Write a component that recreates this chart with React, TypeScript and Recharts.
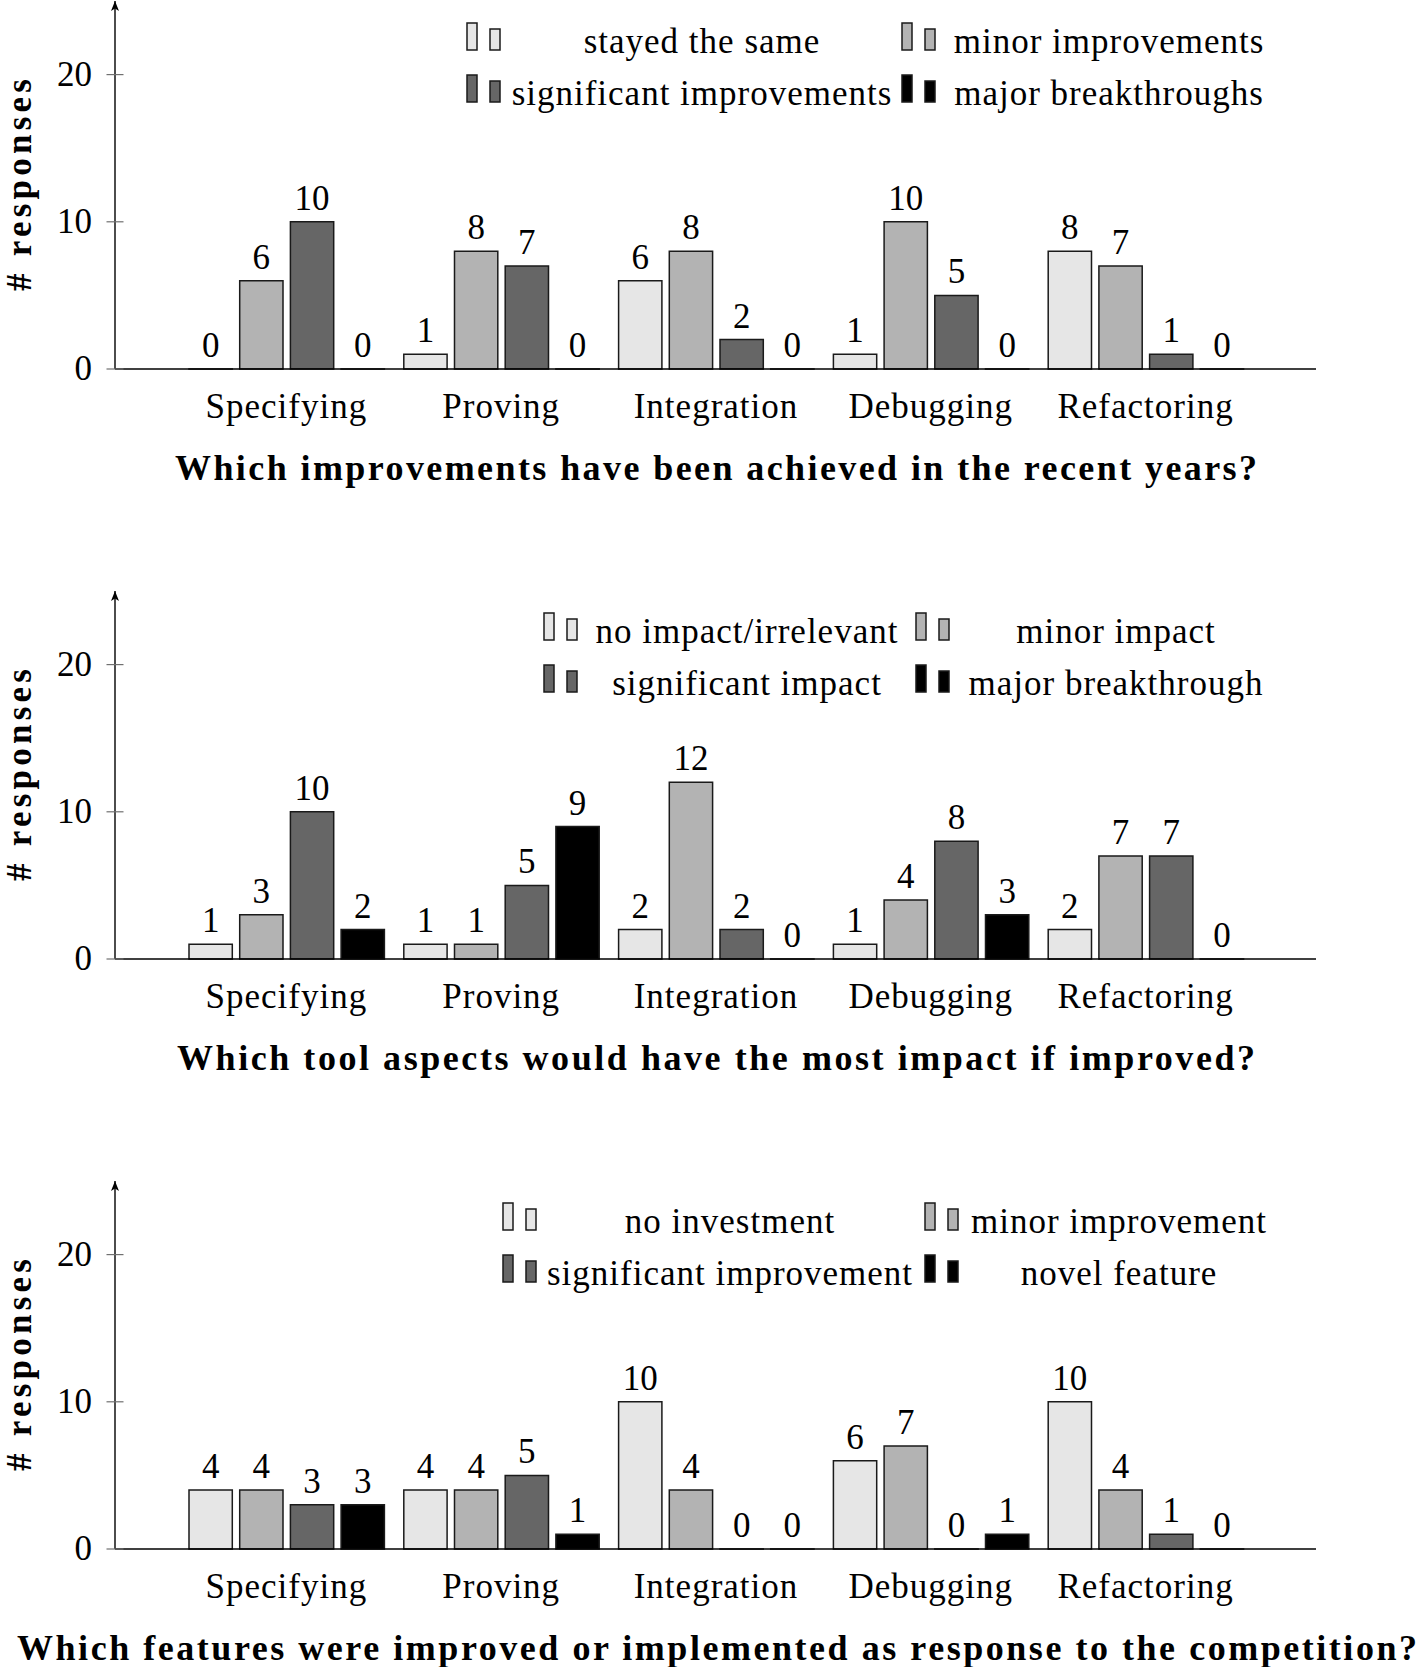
import React from 'react'
import { BarChart, Bar, XAxis, YAxis, Legend, LabelList, Label } from 'recharts'

// ---- data ----
const categories = ['Specifying', 'Proving', 'Integration', 'Debugging', 'Refactoring']
const yTicks = [0, 10, 20]
const yMax = 25
const yAxisTitle = '# responses'

// panel 1
const achievedTitle = 'Which improvements have been achieved in the recent years?'
const achievedNames = ['stayed the same', 'minor improvements', 'significant improvements', 'major breakthroughs']
const achievedSame = [0, 1, 6, 1, 8]
const achievedMinor = [6, 8, 8, 10, 7]
const achievedSignificant = [10, 7, 2, 5, 1]
const achievedMajor = [0, 0, 0, 0, 0]

// panel 2
const impactTitle = 'Which tool aspects would have the most impact if improved?'
const impactNames = ['no impact/irrelevant', 'minor impact', 'significant impact', 'major breakthrough']
const impactNone = [1, 1, 2, 1, 2]
const impactMinor = [3, 1, 12, 4, 7]
const impactSignificant = [10, 5, 2, 8, 7]
const impactMajor = [2, 9, 0, 3, 0]

// panel 3
const featuresTitle = 'Which features were improved or implemented as response to the competition?'
const featuresNames = ['no investment', 'minor improvement', 'significant improvement', 'novel feature']
const featuresNone = [4, 4, 10, 6, 10]
const featuresMinor = [4, 4, 4, 7, 4]
const featuresSignificant = [3, 5, 0, 0, 1]
const featuresNovel = [3, 1, 0, 1, 0]

// ---- styling / layout ----
const FONT = 'Liberation Serif, Tinos, DejaVu Serif, serif'
const W = 1421
const H = 590
const AXIS_X = 115
const AXIS_Y = 369
const FILLS = ['#e6e6e6', '#b3b3b3', '#666666', '#000000']
const STROKE = '#1a1a1a'
const KEYS = ['s0', 's1', 's2', 's3']
const LEGEND_BASE = [50, 102] // bottom of the legend markers per row
const LEGEND_TEXT_SHIFT = 3

const buildRows = (series: number[][]) =>
  categories.map((category, i) => {
    const row: Record<string, string | number> = { category }
    series.forEach((s, k) => (row[KEYS[k]] = s[i]))
    return row
  })

const panels = [
  {
    title: achievedTitle, titleX: 716, titleWidth: 1082, names: achievedNames,
    rows: buildRows([achievedSame, achievedMinor, achievedSignificant, achievedMajor]),
    markerX: [467, 902], textX: [702, 1109],
  },
  {
    title: impactTitle, titleX: 716, titleWidth: 1078, names: impactNames,
    rows: buildRows([impactNone, impactMinor, impactSignificant, impactMajor]),
    markerX: [544, 916], textX: [747, 1116],
  },
  {
    title: featuresTitle, titleX: 717, titleWidth: 1400, names: featuresNames,
    rows: buildRows([featuresNone, featuresMinor, featuresSignificant, featuresNovel]),
    markerX: [503, 925], textX: [730, 1119],
  },
]

const textStyle = { fontFamily: FONT }

function YTick(props: any) {
  const { y, payload } = props
  if (payload.value === yMax) {
    return (
      <path
        d={`M ${AXIS_X} ${y} L ${AXIS_X + 4} ${y + 10} L ${AXIS_X} ${y + 7.5} L ${AXIS_X - 4} ${y + 10} Z`}
        fill="#000"
      />
    )
  }
  return (
    <g>
      <line x1={AXIS_X - 8.5} x2={AXIS_X + 8.5} y1={y} y2={y} stroke="#707070" strokeWidth={1.2} />
      <text x={AXIS_X - 23} y={y + 11} textAnchor="end" style={textStyle} fontSize={35} fill="#000">
        {payload.value}
      </text>
    </g>
  )
}

function XTick(props: any) {
  const { x, y, payload } = props
  return (
    <text x={x} y={y + 49} textAnchor="middle" style={textStyle} fontSize={35} letterSpacing={1} fill="#000">
      {payload.value}
    </text>
  )
}

function ValueLabel(props: any) {
  const { x, y, width, value } = props
  return (
    <text x={x + width / 2} y={y - 12} textAnchor="middle" style={textStyle} fontSize={35} fill="#000">
      {value}
    </text>
  )
}

function Panel({ cfg }: { cfg: (typeof panels)[number] }) {
  const legendContent = (props: any) => {
    const payload = props.payload || []
    return (
      <svg width={W} height={120} style={{ display: 'block' }}>
        {payload.map((p: any) => {
          const idx = KEYS.indexOf(p.dataKey)
          const col = idx % 2
          const base = LEGEND_BASE[Math.floor(idx / 2)]
          const mx = cfg.markerX[col]
          return (
            <g key={p.dataKey}>
              <rect x={mx} y={base - 27} width={10} height={27} fill={FILLS[idx]} stroke={STROKE} strokeWidth={1.5} />
              <rect x={mx + 23} y={base - 21} width={10} height={21} fill={FILLS[idx]} stroke={STROKE} strokeWidth={1.5} />
              <text
                x={cfg.textX[col]}
                y={base + LEGEND_TEXT_SHIFT}
                textAnchor="middle"
                style={textStyle}
                fontSize={35}
                letterSpacing={1}
                fill="#000"
              >
                {cfg.names[idx]}
              </text>
            </g>
          )
        })}
      </svg>
    )
  }

  return (
    <BarChart
      width={W}
      height={H}
      data={cfg.rows}
      margin={{ top: 1, right: W - 1316, bottom: 0, left: 0 }}
      barGap={7.4}
    >
      <XAxis
        dataKey="category"
        type="category"
        interval={0}
        padding={{ left: 64, right: 63 }}
        height={H - AXIS_Y}
        tickLine={false}
        tickSize={0}
        tickMargin={0}
        axisLine={{ stroke: '#000', strokeWidth: 1.6 }}
        tick={<XTick />}
      >
        <Label
          value={cfg.title}
          content={() => (
            <text
              x={cfg.titleX}
              y={AXIS_Y + 111}
              textAnchor="middle"
              textLength={cfg.titleWidth}
              lengthAdjust="spacing"
              style={textStyle}
              fontWeight="bold"
              fontSize={36}
              fill="#000"
            >
              {cfg.title}
            </text>
          )}
        />
      </XAxis>
      <YAxis
        type="number"
        domain={[0, yMax]}
        ticks={[...yTicks, yMax]}
        interval={0}
        width={AXIS_X}
        tickLine={false}
        axisLine={{ stroke: '#000', strokeWidth: 1.4 }}
        tick={<YTick />}
      >
        <Label
          value={yAxisTitle}
          content={() => (
            <text
              x={31}
              y={185}
              transform="rotate(-90 31 185)"
              textAnchor="middle"
              textLength={212}
              lengthAdjust="spacing"
              style={textStyle}
              fontWeight="bold"
              fontSize={35}
              fill="#000"
            >
              {yAxisTitle}
            </text>
          )}
        />
      </YAxis>
      <Legend
        layout="vertical"
        align="center"
        verticalAlign="middle"
        wrapperStyle={{ left: 0, top: 0, width: W, height: 120 }}
        content={legendContent}
      />
      {KEYS.map((k, i) => (
        <Bar
          key={k}
          dataKey={k}
          name={cfg.names[i]}
          fill={FILLS[i]}
          stroke={STROKE}
          strokeWidth={1.5}
          barSize={43.3}
          minPointSize={0.01}
          isAnimationActive={false}
        >
          <LabelList dataKey={k} content={<ValueLabel />} />
        </Bar>
      ))}
    </BarChart>
  )
}

export default function App() {
  return (
    <div
      style={{
        position: 'absolute', left: 0, top: 0, width: W, height: 1667,
        overflow: 'hidden', background: '#fff', fontFamily: FONT,
      }}
    >
      {panels.map((cfg, i) => (
        <div key={i} style={{ position: 'absolute', left: 0, top: i * H, width: W, height: H }}>
          <Panel cfg={cfg} />
        </div>
      ))}
    </div>
  )
}
